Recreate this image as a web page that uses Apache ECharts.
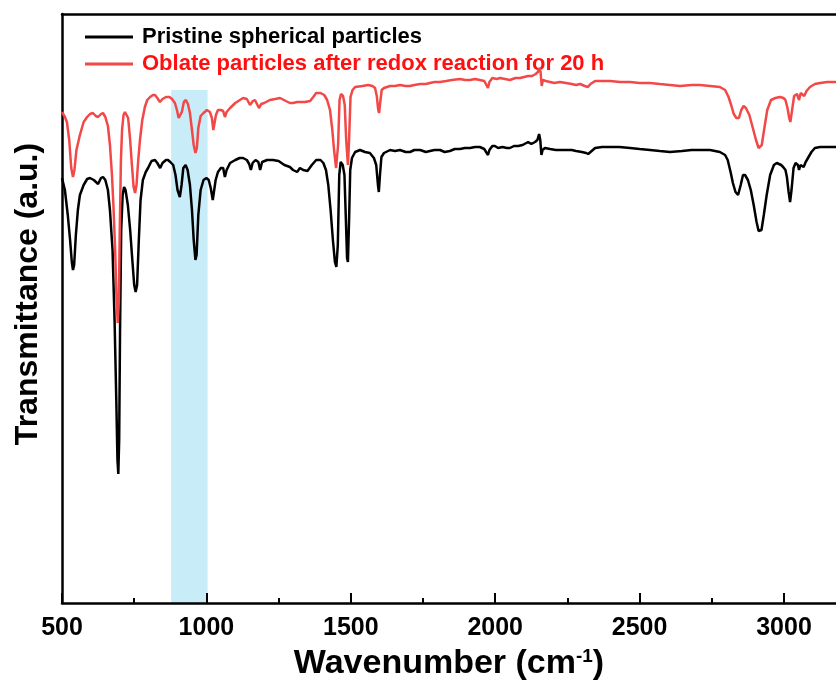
<!DOCTYPE html>
<html><head><meta charset="utf-8">
<script src="https://cdn.jsdelivr.net/npm/echarts@6/dist/echarts.min.js"></script>
<style>html,body{margin:0;padding:0;background:#fff}#c{width:836px;height:682px}</style>
</head><body><div id="c"></div>
<script>
// Wavenumber (cm^-1) and transmittance (arbitrary units)
const pristineWn = [500,510,520,528,534,538,542,548,555,562,575,587,597,610,625,635,642,650,659,666,675,682,688,692,695,698,701,705,710,715,720,728,736,744,750,755,760,766,772,780,790,798,810,822,830,840,848,860,867,875,885,893,900,908,914,920,928,935,943,950,956,962,966,972,980,990,1000,1008,1015,1022,1026,1032,1040,1050,1058,1064,1070,1082,1100,1115,1127,1140,1148,1154,1160,1170,1180,1186,1193,1210,1230,1250,1270,1289,1300,1314,1324,1335,1350,1365,1380,1395,1405,1414,1422,1430,1438,1445,1450,1455,1460,1465,1472,1478,1483,1487,1490,1494,1498,1504,1515,1532,1549,1566,1580,1588,1594,1597,1601,1606,1615,1636,1653,1670,1690,1705,1720,1740,1760,1774,1790,1809,1825,1843,1860,1878,1895,1913,1930,1947,1962,1968,1975,1980,1990,1999,2010,2025,2040,2051,2065,2080,2095,2114,2125,2138,2146,2152,2156,2160,2164,2172,2190,2210,2224,2245,2265,2280,2300,2315,2322,2330,2346,2370,2398,2430,2467,2500,2536,2570,2605,2647,2680,2709,2744,2778,2796,2805,2815,2823,2832,2841,2850,2858,2865,2875,2885,2895,2905,2912,2917,2922,2930,2940,2952,2965,2975,2990,2997,3005,3010,3016,3021,3026,3033,3040,3048,3052,3057,3062,3068,3075,3085,3095,3107,3125,3142,3180];
const pristineT = [425,413,388,363,341,333,338,368,393,408,418,424,425,423,419,425,426,423,413,393,353,283,203,143,129,163,273,373,408,416,413,398,373,341,318,311,318,363,403,423,431,435,442,443,440,435,440,443,443,441,438,428,413,406,418,435,438,433,418,393,363,343,348,388,413,423,425,423,415,403,405,423,431,435,435,426,433,440,443,445,445,443,439,433,440,443,441,433,441,443,443,442,438,436,433,431,435,433,432,438,443,443,440,433,418,393,363,341,336,358,428,441,438,428,383,345,341,383,433,445,451,453,451,450,445,438,418,411,428,446,450,453,452,453,451,451,453,453,451,452,453,453,451,452,454,454,455,455,456,456,454,455,448,453,457,457,455,456,455,455,457,457,458,461,459,461,463,469,463,448,453,455,454,453,453,453,453,452,451,450,449,451,455,456,456,456,455,454,453,452,451,452,453,453,453,451,448,443,431,420,411,408,418,428,428,423,413,398,381,372,370,373,388,408,428,438,440,438,436,433,426,411,401,413,435,440,438,433,438,440,436,441,446,451,455,456,456,456];

const oblateWn = [500,510,517,525,532,538,543,550,562,575,587,597,607,617,625,635,642,650,659,666,673,678,684,689,693,697,700,704,708,713,718,723,729,736,742,748,753,758,764,770,778,787,795,805,815,822,830,839,848,860,872,881,891,898,904,909,915,922,929,936,943,950,956,962,967,972,980,990,1002,1012,1019,1024,1028,1033,1040,1050,1058,1064,1070,1082,1100,1116,1127,1140,1151,1156,1161,1168,1175,1182,1190,1200,1220,1238,1255,1275,1289,1300,1314,1324,1341,1359,1370,1380,1395,1408,1418,1428,1436,1442,1449,1452,1456,1461,1466,1473,1479,1484,1490,1494,1499,1506,1515,1540,1560,1575,1584,1590,1595,1598,1602,1607,1615,1636,1653,1670,1690,1705,1720,1740,1760,1774,1790,1809,1830,1850,1878,1895,1913,1930,1947,1962,1968,1975,1980,1990,2005,2017,2034,2051,2070,2086,2100,2114,2128,2140,2148,2153,2157,2161,2165,2175,2190,2205,2224,2245,2265,2280,2294,2310,2321,2330,2346,2370,2398,2432,2467,2500,2536,2570,2605,2640,2680,2709,2744,2778,2796,2808,2818,2826,2835,2844,2852,2860,2868,2880,2892,2903,2912,2917,2923,2932,2942,2955,2970,2986,2998,3005,3012,3018,3022,3027,3035,3045,3052,3058,3064,3070,3078,3090,3107,3125,3150,3180];
const oblateT = [491,486,481,463,435,426,433,453,468,481,486,489,490,487,486,489,490,486,477,458,428,398,353,303,280,303,373,443,473,488,491,490,485,463,438,416,410,418,443,463,483,496,503,506,508,508,505,501,504,506,506,504,500,493,485,483,491,501,503,499,490,473,458,450,455,475,487,490,493,491,485,473,475,488,493,493,492,486,491,495,500,503,505,504,498,496,502,503,499,495,499,500,503,504,505,502,500,500,501,501,501,502,506,510,510,508,503,493,473,453,435,433,458,503,509,507,498,463,438,463,506,513,516,517,518,517,515,507,493,490,501,513,515,517,517,518,517,517,518,519,519,520,521,521,522,523,524,523,523,524,523,522,523,515,521,525,524,525,524,523,525,525,526,527,527,529,531,535,531,517,523,522,521,520,521,520,519,518,519,517,516,519,522,522,522,521,521,520,520,519,518,517,518,518,517,516,513,506,497,489,485,485,493,497,495,488,475,463,455,454,458,475,493,503,505,506,505,503,495,485,481,491,507,509,503,510,508,507,512,516,519,520,521,521];

const seriesNames = ['Pristine spherical particles', 'Oblate particles after redox reaction for 20 h'];
const majorTicks = [500,1000,1500,2000,2500,3000];
const minorTicks = [750,1250,1750,2250,2750];
const band = [878, 1004];
const bandTop = 513;
const xRange = [500, 3180];

const font = '"Liberation Sans", Arial, sans-serif';
const zip = (a, b) => a.map((v, i) => [v, b[i]]);

const chart = echarts.init(document.getElementById('c'), null, {renderer: 'canvas'});
chart.setOption({
  animation: false,
  backgroundColor: '#fff',
  grid: {left: 62, right: 0, top: 14, bottom: 79, containLabel: false, outerBoundsMode: 'none'},
  legend: {
    orient: 'vertical', left: 80, top: 21, itemWidth: 48, itemHeight: 3, itemGap: 5,
    icon: 'rect',
    textStyle: {fontFamily: font, fontWeight: 'bold', fontSize: 22, lineHeight: 22, padding: [0,0,0,4]},
    data: [
      {name: seriesNames[0], textStyle: {color: '#000'}},
      {name: seriesNames[1], textStyle: {color: '#ff1010'}}
    ]
  },
  xAxis: [
    {type: 'value', position: 'bottom', min: xRange[0], max: xRange[1],
     axisLine: {show: true, lineStyle: {color: '#000', width: 2.5}},
     axisTick: {show: true, inside: true, length: 10, lineStyle: {color: '#000', width: 2}, customValues: majorTicks},
     axisLabel: {customValues: majorTicks, formatter: v => String(v), color: '#000', fontFamily: font, fontWeight: 'bold', fontSize: 25, margin: 13},
     splitLine: {show: false},
     name: 'Wavenumber (cm{sup|-1})', nameLocation: 'middle', nameGap: 44,
     nameTextStyle: {color: '#000', fontFamily: font, fontWeight: 'bold', fontSize: 34,
       rich: {sup: {fontFamily: font, fontWeight: 'bold', fontSize: 19, verticalAlign: 'top', color: '#000'}}}
    },
    {type: 'value', position: 'bottom', min: xRange[0], max: xRange[1],
     axisLine: {show: false},
     axisTick: {show: true, inside: true, length: 5, lineStyle: {color: '#000', width: 2}, customValues: minorTicks},
     axisLabel: {show: false}, splitLine: {show: false}
    },
    {type: 'value', position: 'top', min: xRange[0], max: xRange[1],
     axisLine: {show: true, lineStyle: {color: '#000', width: 2.5}},
     axisTick: {show: false}, axisLabel: {show: false}, splitLine: {show: false}
    }
  ],
  yAxis: {type: 'value', min: 0, max: 589,
    axisLine: {show: true, lineStyle: {color: '#000', width: 2.5}},
    axisTick: {show: false}, axisLabel: {show: false}, splitLine: {show: false}
  },
  graphic: [{
    type: 'text', x: 28, y: 294, rotation: Math.PI / 2,
    style: {text: 'Transmittance (a.u.)', fill: '#000', font: 'bold 32px ' + font, textAlign: 'center', textVerticalAlign: 'middle'}
  }],
  series: [
    {name: 'band', type: 'line', data: [], z: 0, silent: true,
     markArea: {silent: true, z: 0, itemStyle: {color: '#c9ecf9'},
       data: [[{xAxis: band[0], yAxis: bandTop}, {xAxis: band[1], yAxis: 0}]]}
    },
    {name: seriesNames[0], type: 'line', data: zip(pristineWn, pristineT), showSymbol: false, symbol: 'none',
     lineStyle: {color: '#000', width: 2.5}, itemStyle: {color: '#000'}, z: 3},
    {name: seriesNames[1], type: 'line', data: zip(oblateWn, oblateT), showSymbol: false, symbol: 'none',
     lineStyle: {color: '#f24848', width: 2.5}, itemStyle: {color: '#f24848'}, z: 4}
  ]
});
</script></body></html>
